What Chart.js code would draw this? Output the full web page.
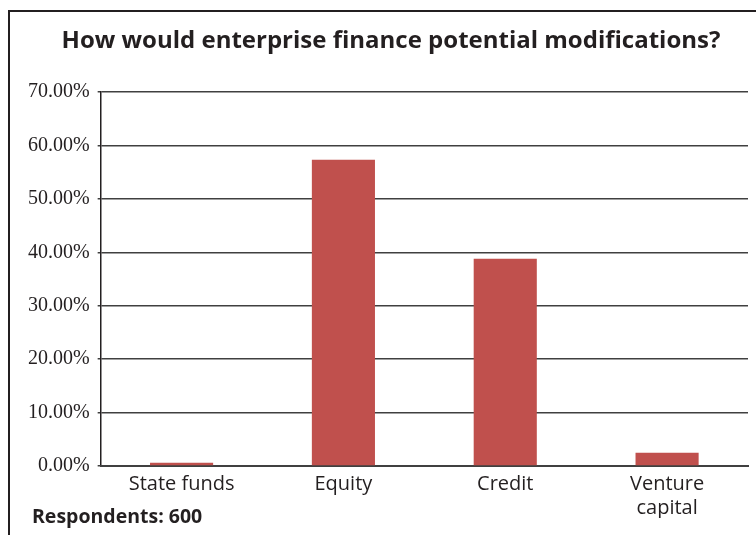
<!DOCTYPE html>
<html>
<head>
<meta charset="utf-8">
<script src="https://cdn.jsdelivr.net/npm/chart.js@4"></script>
<style>
    html, body { margin: 0; padding: 0; background: #fff; overflow: hidden; }
    #wrap { position: relative; width: 756px; height: 535px; }
    #frame {
        position: absolute; left: 8px; top: 10px; width: 800px; height: 600px;
        border-left: 2px solid #231f20; border-top: 2px solid #231f20;
    }
    canvas { position: absolute; left: 0; top: 0; }
</style>
</head>
<body>
<div id="wrap">
    <div id="frame"></div>
    <canvas id="financeChart" width="756" height="535"></canvas>
</div>
<script>
const categories = ['State funds', 'Equity', 'Credit', ['Venture', 'capital']];
const shares = [0.6, 57.3, 38.8, 2.5];
const yTicks = [0, 10, 20, 30, 40, 50, 60, 70];

// judul di atas dan tulisan "Respondents: 600" di pojok kiri bawah
const extraTexts = {
    id: 'extraTexts',
    afterDraw(chart) {
        const c = chart.ctx;
        c.save();
        c.fillStyle = '#231f20';
        c.textBaseline = 'middle';
        c.font = 'bold 24px "Open Sans"';
        c.textAlign = 'center';
        c.fillText('How would enterprise finance potential modifications?', 391, 41);
        c.font = 'bold 19.5px "Open Sans"';
        c.textAlign = 'left';
        c.fillText('Respondents: 600', 32, 517);
        c.restore();
    }
};

document.addEventListener("DOMContentLoaded", function () {
    let ctx = document.getElementById('financeChart').getContext('2d');

    new Chart(ctx, {
        type: 'bar',
        data: {
            labels: categories,
            datasets: [{
                data: shares,
                backgroundColor: '#C0504D',
                barPercentage: 0.39,
                categoryPercentage: 1
            }]
        },
        options: {
            responsive: false,
            animation: false,
            layout: { padding: { left: 20, right: 8, top: 92, bottom: 17 } },
            plugins: {
                legend: { display: false },
                tooltip: { enabled: false },
                title: { display: false }
            },
            scales: {
                y: {
                    min: 0,
                    max: 70,
                    afterBuildTicks: axis => { axis.ticks = yTicks.map(v => ({ value: v })); },
                    ticks: {
                        callback: v => v.toFixed(2) + '%',
                        color: '#231f20',
                        font: { family: '"Liberation Serif"', size: 20 },
                        padding: 8
                    },
                    grid: { color: '#404040', lineWidth: 1.5, tickLength: 3 },
                    border: { color: '#231f20', width: 1.5 }
                },
                x: {
                    ticks: {
                        color: '#231f20',
                        font: { family: '"Open Sans"', size: 20 },
                        padding: -2
                    },
                    grid: { display: false },
                    border: { color: '#404040', width: 2 }
                }
            }
        },
        plugins: [extraTexts]
    });
});
</script>
</body>
</html>
